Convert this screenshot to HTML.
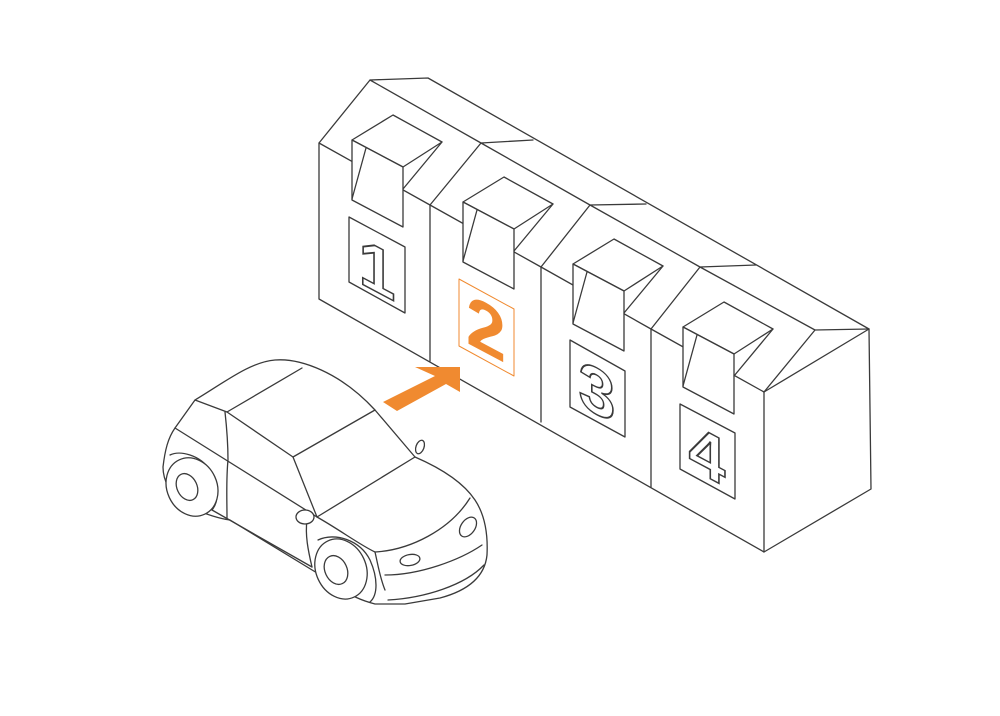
<!DOCTYPE html>
<html><head><meta charset="utf-8"><style>
html,body{margin:0;padding:0;background:#fff;}
svg{display:block}
</style></head><body>
<svg width="1000" height="716" viewBox="0 0 1000 716" xmlns="http://www.w3.org/2000/svg">
<g fill="none" stroke="#3a3a3a" stroke-width="1.3" stroke-linejoin="round" stroke-linecap="round">
  <polygon fill="#fff" points="319,143 370,80 428,78 869,329 871,489 764,552 319,299"/>
  <polyline points="319,143 430,205 541,267 651,329 764,392 764,552"/>
  <polyline points="370,80 481,143 590,205 700,267 815,330 869,329"/>
  <polyline points="430,205 481,143 533,140"/>
  <polyline points="541,267 590,205 646,204"/>
  <polyline points="651,329 700,267 756,265"/>
  <polyline points="764,392 815,330"/>
  <polyline points="764,392 869,329"/>
  <line x1="430" y1="205" x2="430" y2="361"/>
  <line x1="541" y1="267" x2="541" y2="422"/>
  <line x1="651" y1="329" x2="651" y2="487"/>
  <g fill="#fff">
    <polygon points="352,140 393,115 442,142 403,167"/>
    <polygon points="352,140 403,167 403,227 352,200"/>
    <polyline points="442,142 403,189"/>
    <polyline points="366,148 352,199"/>
  </g>
  <g transform="translate(111,62)" fill="#fff">
    <polygon points="352,140 393,115 442,142 403,167"/>
    <polygon points="352,140 403,167 403,227 352,200"/>
    <polyline points="442,142 403,189"/>
    <polyline points="366,148 352,199"/>
  </g>
  <g transform="translate(221,124)" fill="#fff">
    <polygon points="352,140 393,115 442,142 403,167"/>
    <polygon points="352,140 403,167 403,227 352,200"/>
    <polyline points="442,142 403,189"/>
    <polyline points="366,148 352,199"/>
  </g>
  <g transform="translate(331,187)" fill="#fff">
    <polygon points="352,140 393,115 442,142 403,167"/>
    <polygon points="352,140 403,167 403,227 352,200"/>
    <polyline points="442,142 403,189"/>
    <polyline points="366,148 352,199"/>
  </g>
  <polygon points="349,217 405,247 405,313 349,282"/>
  <polygon points="459,279 514,309 514,376 459,346" stroke="#f08a30" stroke-width="1"/>
  <polygon points="570,340 625,371 625,437 570,407"/>
  <polygon points="680,404 735,433 735,499 680,469"/>
</g>
<g font-family="Liberation Sans, sans-serif" font-weight="bold" text-anchor="middle">
  <text transform="translate(377,292) skewY(28)" font-size="66" fill="#fff" stroke="#3a3a3a" stroke-width="1.6">1</text>
  <text transform="translate(486,353) skewY(28)" font-size="72" fill="#f08a30">2</text>
  <text transform="translate(597,414) skewY(28)" font-size="66" fill="#fff" stroke="#3a3a3a" stroke-width="1.6">3</text>
  <text transform="translate(707,477) skewY(28)" font-size="66" fill="#fff" stroke="#3a3a3a" stroke-width="1.6">4</text>
</g>
<polygon fill="#f08a30" points="383,402 435,376 415,367 460,367 460,392 446,384 397,411"/>
<g fill="none" stroke="#3a3a3a" stroke-width="1.3" stroke-linejoin="round" stroke-linecap="round">
  <path fill="#fff" d="M195,400 C225,382 250,362 275,360 C300,358 340,372 375,410 L415,457 C445,470 465,485 475,500 C485,515 488,535 487,555 C485,575 470,590 440,598 L405,604 L375,604 C360,600 350,595 345,590 L230,520 C215,518 200,512 185,505 C170,495 163,480 163,467 C165,450 168,438 175,428 Z"/>
  <polyline points="195,400 227,412 302,368"/>
  <polyline points="227,412 293,457 375,410"/>
  <polyline points="293,457 317,517 415,457"/>
  <path d="M225,412 C227,430 228,445 228,460 C226,480 227,500 227,518"/>
  <polyline points="175,428 317,517"/>
  <polyline points="212,510 312,567"/>
  <path d="M317,517 C340,530 360,545 375,552 C410,550 450,530 470,498"/>
  <path d="M375,552 C378,565 380,578 385,590"/>
  <path d="M385,575 C420,575 460,560 482,545"/>
  <path d="M388,600 C425,598 465,585 484,565"/>
  <path d="M307,520 C305,535 308,550 312,567"/>
  <ellipse cx="305" cy="517" rx="9" ry="7" fill="#fff"/>
  <ellipse cx="420" cy="447" rx="4" ry="7" transform="rotate(20 420 447)" fill="#fff"/>
  <ellipse cx="468" cy="527" rx="11" ry="7" transform="rotate(-55 468 527)"/>
  <ellipse cx="410" cy="560" rx="10" ry="5.5" transform="rotate(-10 410 560)"/>
  <path d="M170,455 C180,450 200,455 210,470 C218,485 220,500 212,510"/>
  <ellipse cx="192" cy="487" rx="25" ry="30" transform="rotate(-25 192 487)" fill="#fff"/>
  <ellipse cx="187" cy="487" rx="10" ry="14" transform="rotate(-25 187 487)"/>
  <path d="M318,540 C335,532 360,540 370,560 C378,578 378,595 370,602"/>
  <ellipse cx="341" cy="569" rx="25" ry="31" transform="rotate(-25 341 569)" fill="#fff"/>
  <ellipse cx="336" cy="570" rx="11" ry="15" transform="rotate(-25 336 570)"/>
</g>
</svg>
</body></html>
